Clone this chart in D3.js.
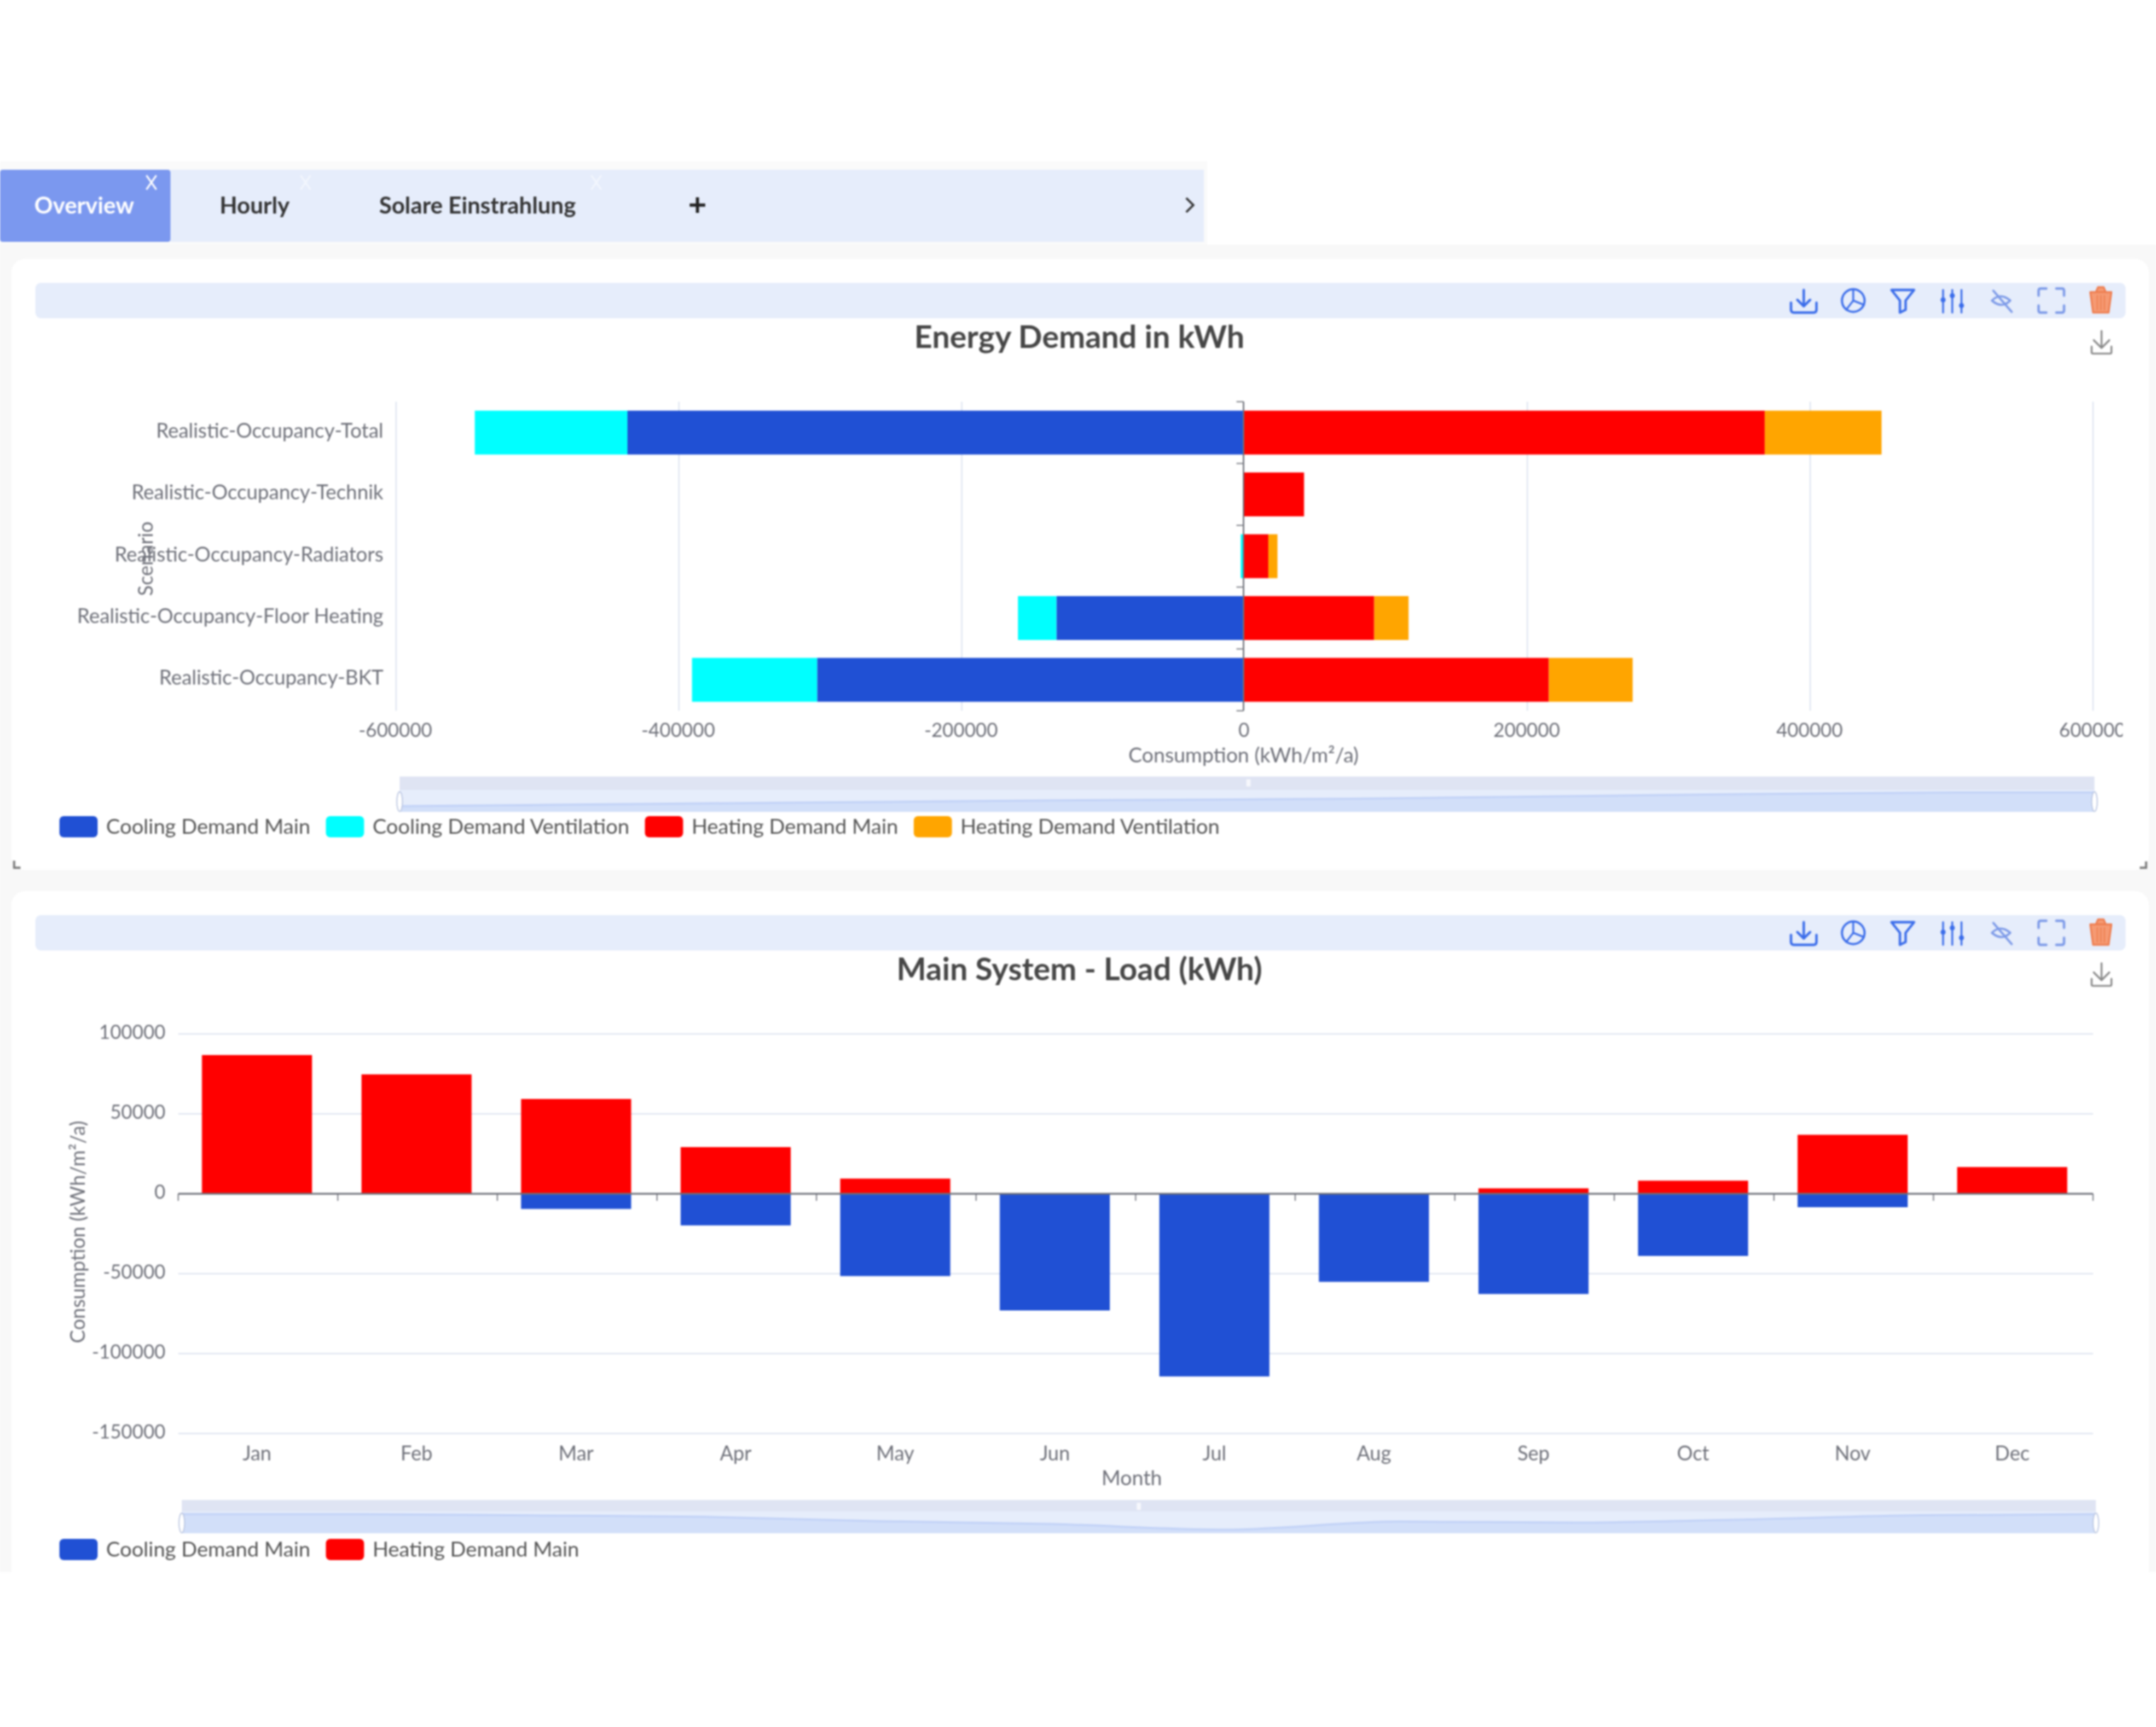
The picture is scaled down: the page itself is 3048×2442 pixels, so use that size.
<!DOCTYPE html>
<html>
<head>
<meta charset="utf-8">
<script src="https://cdn.jsdelivr.net/npm/d3@7"></script>
<style>
  html, body { margin: 0; padding: 0; background: #fff; }
  svg { display: block; filter: blur(1px); font-family: Lato, "Noto Sans", sans-serif; }
</style>
</head>
<body>
<svg id="vista" width="3048" height="2442"></svg>
<script>
const escenarios = [
  "Realistic-Occupancy-Total",
  "Realistic-Occupancy-Technik",
  "Realistic-Occupancy-Radiators",
  "Realistic-Occupancy-Floor Heating",
  "Realistic-Occupancy-BKT"
];
const coolMainEsc = [-435700, 0, 0, -132300, -301500];
const coolVentEsc = [-107900, 0, -2000, -27200, -88500];
const heatMainEsc = [368600, 42800, 17500, 92400, 215900];
const heatVentEsc = [82600, 0, 6500, 24300, 59300];
const ticksEsc = [-600000, -400000, -200000, 0, 200000, 400000, 600000];

const meses = ["Jan", "Feb", "Mar", "Apr", "May", "Jun", "Jul", "Aug", "Sep", "Oct", "Nov", "Dec"];
const coolMes = [0, 0, -9500, -19800, -51500, -73000, -114300, -55100, -62700, -38900, -8400, 0];
const heatMes = [86800, 74700, 59300, 29200, 9500, 0, 0, 0, 3400, 8200, 36900, 16700];
const ticksMes = [-150000, -100000, -50000, 0, 50000, 100000];

// sombra del primer dataZoom, leida a ojo (posicion relativa, nivel relativo)
const sombraPos = [0, 0.16, 0.4, 0.56, 0.77, 0.92, 1];
const sombraNivel = [0.26, 0.37, 0.53, 0.6, 0.79, 0.89, 0.89];

const AZUL = "#2050d4", CIAN = "#00ffff", ROJO = "#ff0000", NARANJA = "#ffa500";
const GRIS = "#6e7079", REJILLA = "#e0e6f1", BANDA = "#e6edfb";

const svg = d3.select("#vista");
const defs = svg.append("defs");
defs.append("clipPath").attr("id", "recorte").append("rect")
  .attr("x", 0).attr("y", 0).attr("width", 3001).attr("height", 2442);

function fondo() {
  svg.append("rect").attr("x", 0).attr("y", 228).attr("width", 1707).attr("height", 120).attr("fill", "#fafafa");
  svg.append("rect").attr("x", 0).attr("y", 346).attr("width", 3048).attr("height", 1877).attr("fill", "#f8f8f8");
  svg.append("rect").attr("x", 16).attr("y", 366).attr("width", 3022).attr("height", 864).attr("rx", 20).attr("fill", "#fff");
  svg.append("rect").attr("x", 16).attr("y", 1260).attr("width", 3022).attr("height", 980).attr("rx", 20).attr("fill", "#fff");
  svg.append("rect").attr("x", 0).attr("y", 2223).attr("width", 3048).attr("height", 219).attr("fill", "#fff");
}

function pestanas() {
  svg.append("rect").attr("x", 241).attr("y", 240).attr("width", 1461).attr("height", 102).attr("fill", BANDA);
  svg.append("rect").attr("x", 0).attr("y", 240).attr("width", 241).attr("height", 102).attr("rx", 4).attr("fill", "#7b98ef");
  const tabs = [
    { txt: "Overview", x: 119, c: "#fff", cruz: 214, op: 1 },
    { txt: "Hourly", x: 360, c: "#333", cruz: 432, op: 0.5 },
    { txt: "Solare Einstrahlung", x: 675, c: "#333", cruz: 843, op: 0.5 }
  ];
  tabs.forEach(t => {
    svg.append("text").attr("x", t.x).attr("y", 302).attr("text-anchor", "middle")
      .attr("font-size", 32.5).attr("font-weight", 700).attr("fill", t.c).text(t.txt);
    svg.append("path").attr("d", `M${t.cruz - 7} 248 l14 20 M${t.cruz + 7} 248 l-14 20`)
      .attr("stroke", "#fff").attr("stroke-width", 2.5).attr("opacity", t.op);
  });
  svg.append("path").attr("d", "M975 290 h22 M986 279 v22").attr("stroke", "#222").attr("stroke-width", 4.5);
  svg.append("path").attr("d", "M1677 280 l10 10 l-10 10").attr("fill", "none").attr("stroke", "#333").attr("stroke-width", 3);
}

function barraIconos(dy) {
  const g = svg.append("g").attr("transform", `translate(0,${dy})`).attr("fill", "none").attr("stroke-linecap", "round").attr("stroke-linejoin", "round");
  g.append("rect").attr("x", 50).attr("y", 400).attr("width", 2955).attr("height", 50).attr("rx", 8).attr("fill", BANDA);
  const azul = "#3a6cea", suave = "#7d9ae8";
  const trazo = (d, c, w) => g.append("path").attr("d", d).attr("stroke", c).attr("stroke-width", w || 3.4);
  trazo("M2550 410 v22 M2541 424 l9 9 l9 -9 M2532 428 v10 q0 4 4 4 h28 q4 0 4 -4 v-10", azul);
  g.append("circle").attr("cx", 2620).attr("cy", 425).attr("r", 16).attr("stroke", azul).attr("stroke-width", 3);
  trazo("M2620 425 v-16 M2620 425 l15 6 M2620 425 l-10 13", azul, 2.6);
  trazo("M2674 410 h32 l-12 15 v13 l-8 4 v-17 z", azul);
  [[2747, 424], [2760, 418], [2773, 432]].forEach(([x, y]) => {
    trazo(`M${x} 410 v32`, azul, 2.6);
    g.append("circle").attr("cx", x).attr("cy", y).attr("r", 3.5).attr("fill", azul).attr("stroke", "none");
  });
  trazo("M2816 425 q12 -12 26 0 q-12 12 -26 0 M2818 411 l26 30", suave, 3);
  trazo("M2882 418 v-7 q0 -3 3 -3 h8 M2907 408 h8 q3 0 3 3 v7 M2918 432 v7 q0 3 -3 3 h-8 M2893 442 h-8 q-3 0 -3 -3 v-7", suave, 3.4);
  g.append("path").attr("d", "M2955 413 h30 l-4 29 h-22 z M2963 413 l3 -7 h8 l3 7").attr("fill", "#f59a73").attr("stroke", "#ee7c4e").attr("stroke-width", 2.4);
  trazo("M2965 418 v20 M2970 418 v20 M2975 418 v20", "#ee7c4e", 1.5);
  trazo("M2971 468 v24 M2960 481 l11 11 l11 -11 M2957 490 v8 q0 2 2 2 h24 q2 0 2 -2 v-8", "#8a8a8a", 2.6);
}

function titulo(txt, y) {
  svg.append("text").attr("x", 1526).attr("y", y).attr("text-anchor", "middle")
    .attr("font-size", 44.5).attr("font-weight", 700).attr("fill", "#464646").text(txt);
}

function leyenda(items, yCentro) {
  let x = 84;
  items.forEach(it => {
    svg.append("rect").attr("x", x).attr("y", yCentro - 15).attr("width", 54).attr("height", 30).attr("rx", 6).attr("fill", it.color);
    const t = svg.append("text").attr("x", x + 66).attr("y", yCentro + 10).attr("font-size", 29.5).attr("fill", "#555").text(it.nombre);
    x += 66 + t.node().getComputedTextLength() + 22;
  });
}

function deslizador(x0, x1, y0, yDiv, y1, xMedio, trazaSombra) {
  svg.append("rect").attr("x", x0).attr("y", y0).attr("width", x1 - x0).attr("height", yDiv - y0).attr("fill", "#dfe4f3");
  svg.append("rect").attr("x", x0).attr("y", yDiv).attr("width", x1 - x0).attr("height", y1 - yDiv).attr("fill", BANDA);
  trazaSombra();
  svg.append("rect").attr("x", xMedio - 3).attr("y", y0 + 4).attr("width", 6).attr("height", 10).attr("fill", "#fff").attr("opacity", 0.7);
  [x0, x1].forEach(x => {
    svg.append("ellipse").attr("cx", x).attr("cy", (yDiv + y1) / 2 + 1).attr("rx", 4).attr("ry", 14)
      .attr("fill", "#fff").attr("stroke", "#b8c4e0").attr("stroke-width", 1.5);
  });
}

function areaSombra(puntos, yBase) {
  const area = d3.area().x(d => d[0]).y0(yBase).y1(d => d[1]).curve(d3.curveMonotoneX);
  const linea = d3.line().x(d => d[0]).y(d => d[1]).curve(d3.curveMonotoneX);
  svg.append("path").attr("d", area(puntos)).attr("fill", "#d2dff9");
  svg.append("path").attr("d", linea(puntos)).attr("fill", "none").attr("stroke", "#c3d3f7").attr("stroke-width", 3);
}

function esquinas() {
  svg.append("path").attr("d", "M20 1217 v10 h9").attr("fill", "none").attr("stroke", "#777").attr("stroke-width", 3);
  svg.append("path").attr("d", "M3034 1218 v9 h-9").attr("fill", "none").attr("stroke", "#777").attr("stroke-width", 3);
}

function estiloEtiquetas(g, tam) {
  g.selectAll("text").attr("font-size", tam).attr("fill", GRIS).attr("font-family", "Lato, 'Noto Sans', sans-serif");
  g.select(".domain").remove();
}

function graficoEscenarios() {
  const x = d3.scaleLinear().domain([-600000, 600000]).range([558.5, 2957.5]);
  const y = d3.scaleBand().domain(escenarios).range([568, 1005]).paddingInner(0.29).paddingOuter(0.145);

  const grid = svg.append("g").attr("transform", "translate(1.5,0)");
  grid.selectAll("line").data(ticksEsc.filter(d => d !== 0)).join("line")
    .attr("x1", d => x(d)).attr("x2", d => x(d)).attr("y1", 568).attr("y2", 1005)
    .attr("stroke", REJILLA).attr("stroke-width", 2);

  const ejeX = svg.append("g").attr("transform", "translate(0,1005)").attr("clip-path", "url(#recorte)")
    .call(d3.axisBottom(x).tickValues(ticksEsc).tickFormat(d => String(d)).tickSize(0).tickPadding(18));
  estiloEtiquetas(ejeX, 27);
  ejeX.selectAll("line").remove();

  svg.append("text").attr("transform", "translate(216,790) rotate(-90)").attr("text-anchor", "middle")
    .attr("font-size", 28).attr("fill", GRIS).text("Scenario");

  const ejeY = svg.append("g").attr("transform", "translate(560,-2)")
    .call(d3.axisLeft(y).tickSize(0).tickPadding(18));
  estiloEtiquetas(ejeY, 28.4);

  const filas = escenarios.map((e, i) => ({
    esc: e, coolMain: coolMainEsc[i], coolVent: coolVentEsc[i], heatMain: heatMainEsc[i], heatVent: heatVentEsc[i]
  }));
  const colores = { coolMain: AZUL, coolVent: CIAN, heatMain: ROJO, heatVent: NARANJA };
  const pila = d3.stack().keys(Object.keys(colores)).offset(d3.stackOffsetDiverging)(filas);
  svg.append("g").selectAll("g").data(pila).join("g").attr("fill", s => colores[s.key])
    .selectAll("rect").data(s => s).join("rect")
    .attr("x", d => x(d[0])).attr("width", d => x(d[1]) - x(d[0]))
    .attr("y", d => y(d.data.esc)).attr("height", y.bandwidth());

  // eje de categorias en el cero, marcas en los bordes de banda
  svg.append("line").attr("x1", x(0)).attr("x2", x(0)).attr("y1", 568).attr("y2", 1005)
    .attr("stroke", GRIS).attr("stroke-width", 2);
  svg.append("g").selectAll("line").data(d3.range(escenarios.length + 1)).join("line")
    .attr("x1", x(0) - 10).attr("x2", x(0))
    .attr("y1", i => 568 + i * y.step()).attr("y2", i => 568 + i * y.step())
    .attr("stroke", GRIS).attr("stroke-width", 1.5);

  svg.append("text").attr("x", x(0)).attr("y", 1078).attr("text-anchor", "middle")
    .attr("font-size", 29).attr("fill", GRIS).text("Consumption (kWh/m²/a)");

  const sx = d3.scaleLinear().domain([0, 1]).range([565, 2961]);
  const sy = d3.scaleLinear().domain([0, 1]).range([1148, 1117]);
  deslizador(565, 2961, 1098, 1117, 1148, 1765, () =>
    areaSombra(sombraPos.map((p, i) => [sx(p), sy(sombraNivel[i])]), 1148));

  leyenda([
    { nombre: "Cooling Demand Main", color: AZUL },
    { nombre: "Cooling Demand Ventilation", color: CIAN },
    { nombre: "Heating Demand Main", color: ROJO },
    { nombre: "Heating Demand Ventilation", color: NARANJA }
  ], 1169);
}

function graficoMeses() {
  const x = d3.scaleBand().domain(meses).range([250.5, 2957.5]).paddingInner(0.31).paddingOuter(0.155);
  const y = d3.scaleLinear().domain([-150000, 100000]).range([2027, 1462]);

  svg.append("g").selectAll("line").data(ticksMes).join("line")
    .attr("x1", 252).attr("x2", 2959).attr("y1", d => y(d)).attr("y2", d => y(d))
    .attr("stroke", REJILLA).attr("stroke-width", 2);

  const ejeY = svg.append("g").attr("transform", "translate(252,-2)")
    .call(d3.axisLeft(y).tickValues(ticksMes).tickFormat(d => String(d)).tickSize(0).tickPadding(18));
  estiloEtiquetas(ejeY, 27);

  const ejeX = svg.append("g").attr("transform", "translate(0,2027)")
    .call(d3.axisBottom(x).tickSize(0).tickPadding(18));
  estiloEtiquetas(ejeX, 28);

  const filas = meses.map((m, i) => ({ mes: m, cool: coolMes[i], heat: heatMes[i] }));
  const colores = { cool: AZUL, heat: ROJO };
  const pila = d3.stack().keys(Object.keys(colores)).offset(d3.stackOffsetDiverging)(filas);
  svg.append("g").selectAll("g").data(pila).join("g").attr("fill", s => colores[s.key])
    .selectAll("rect").data(s => s).join("rect")
    .attr("x", d => x(d.data.mes)).attr("width", x.bandwidth())
    .attr("y", d => y(d[1])).attr("height", d => y(d[0]) - y(d[1]));

  // linea del cero con marcas entre meses
  svg.append("line").attr("x1", 252).attr("x2", 2959).attr("y1", y(0)).attr("y2", y(0))
    .attr("stroke", GRIS).attr("stroke-width", 2.4);
  svg.append("g").selectAll("line").data(d3.range(meses.length + 1)).join("line")
    .attr("x1", i => 252 + i * x.step()).attr("x2", i => 252 + i * x.step())
    .attr("y1", y(0)).attr("y2", y(0) + 10)
    .attr("stroke", GRIS).attr("stroke-width", 1.5);

  svg.append("text").attr("transform", "translate(120,1742) rotate(-90)").attr("text-anchor", "middle")
    .attr("font-size", 28).attr("fill", GRIS).text("Consumption (kWh/m²/a)");
  svg.append("text").attr("x", 1600).attr("y", 2100).attr("text-anchor", "middle")
    .attr("font-size", 29).attr("fill", GRIS).text("Month");

  const paso = (2963 - 257) / (meses.length - 1);
  const sy = d3.scaleLinear().domain([-114300, 0]).range([2163, 2141]);
  deslizador(257, 2963, 2121, 2137, 2168, 1610, () =>
    areaSombra(coolMes.map((v, i) => [257 + i * paso, sy(v)]), 2168));

  leyenda([
    { nombre: "Cooling Demand Main", color: AZUL },
    { nombre: "Heating Demand Main", color: ROJO }
  ], 2191);
}

fondo();
pestanas();
barraIconos(0);
barraIconos(894);
titulo("Energy Demand in kWh", 492);
titulo("Main System - Load (kWh)", 1386);
graficoEscenarios();
graficoMeses();
esquinas();
</script>
</body>
</html>
